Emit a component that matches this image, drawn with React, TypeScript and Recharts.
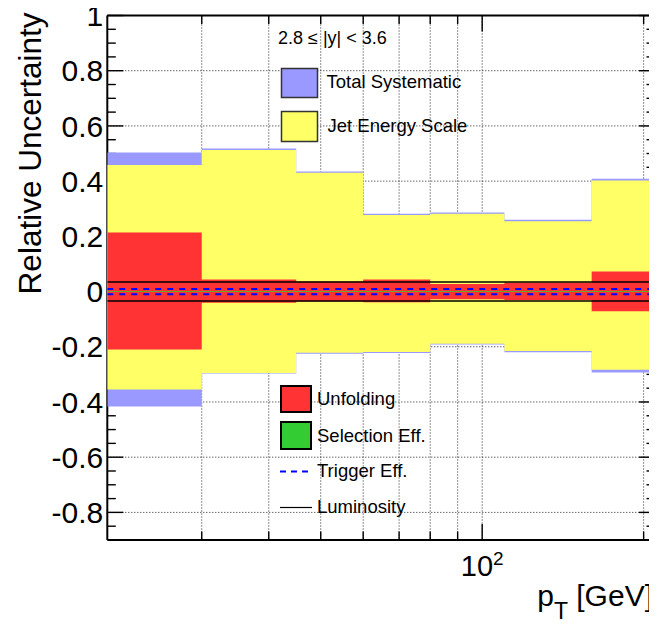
import React from 'react';
import { ComposedChart, Area, Line, XAxis, YAxis, CartesianGrid, Legend } from 'recharts';

// pT bin edges [GeV]
const binEdges = [20, 30, 45, 60, 80, 110, 160, 210];

// relative uncertainties per bin (7 bins)
const totalUp = [0.504, 0.518, 0.435, 0.282, 0.286, 0.26, 0.409];
const totalDown = [-0.416, -0.297, -0.225, -0.223, -0.192, -0.22, -0.293];
const jesUp = [0.458, 0.513, 0.43, 0.277, 0.282, 0.255, 0.402];
const jesDown = [-0.355, -0.295, -0.222, -0.219, -0.189, -0.215, -0.283];
const unfoldUp = [0.214, 0.044, 0.036, 0.044, 0.027, 0.033, 0.073];
const unfoldDown = [-0.21, -0.041, -0.036, -0.039, -0.028, -0.031, -0.071];
const selUp = [0.0015, 0.0015, 0.0015, 0.0015, 0.0015, 0.0015, 0.0015];
const selDown = [-0.0015, -0.0015, -0.0015, -0.0015, -0.0015, -0.0015, -0.0015];
const trigUp = [0.009, 0.009, 0.009, 0.009, 0.009, 0.009, 0.009];
const trigDown = [-0.01, -0.01, -0.01, -0.01, -0.01, -0.01, -0.01];
const lumiUp = [0.035, 0.035, 0.035, 0.035, 0.035, 0.035, 0.035];
const lumiDown = [-0.034, -0.034, -0.034, -0.034, -0.034, -0.034, -0.034];

// axis ticks
const yMajorTicks = [-0.8, -0.6, -0.4, -0.2, 0, 0.2, 0.4, 0.6, 0.8, 1];
const yMinorTicks = [-0.85, -0.75, -0.7, -0.65, -0.55, -0.5, -0.45, -0.35, -0.3, -0.25, -0.15, -0.1, -0.05,
  0.05, 0.1, 0.15, 0.25, 0.3, 0.35, 0.45, 0.5, 0.55, 0.65, 0.7, 0.75, 0.85, 0.9, 0.95];
const xGridTicks = [30, 40, 50, 60, 70, 80, 90, 100, 200];
const xMinorTicks = [30, 40, 50, 60, 70, 80, 90, 200];
const xMajorTicks = [100];
const xDomain = [20, 210];
const yDomain = [-0.9, 1];

const rapidityLabel = '2.8 \u2264 |y| < 3.6';

const lastBin = totalUp.length - 1;
const data = binEdges.map((x, i) => {
  const b = Math.min(i, lastBin);
  return {
    x,
    total: [totalDown[b], totalUp[b]],
    jes: [jesDown[b], jesUp[b]],
    unfold: [unfoldDown[b], unfoldUp[b]],
    sel: [selDown[b], selUp[b]],
    trigUp: trigUp[b],
    trigDown: trigDown[b],
    lumiUp: lumiUp[b],
    lumiDown: lumiDown[b],
  };
});

const FONT = '"Liberation Sans", Arial, Helvetica, sans-serif';
const W = 657;
const H = 627;
const THIN = 0.001;

const EmptyTick = () => <g />;

const XTick = (props: any) => {
  const { x, y, payload } = props;
  if (payload.value !== 100) return <g />;
  return (
    <text x={x} y={y + 34} textAnchor="middle" fontFamily={FONT} fontSize={29} fill="#000">
      <tspan>10</tspan>
      <tspan dy={-11} fontSize={19}>2</tspan>
    </text>
  );
};

const YTitle = (props: any) => {
  const vb = props.viewBox || { x: 0, y: 15.5 };
  const x = 41;
  const y = vb.y - 3;
  return (
    <text x={x} y={y} transform={`rotate(-90, ${x}, ${y})`} textAnchor="end" fontFamily={FONT} fontSize={31.5} fill="#000">
      Relative Uncertainty
    </text>
  );
};

const XTitle = (props: any) => {
  const vb = props.viewBox || { x: 107, y: 540, width: 548 };
  const x = vb.x + vb.width - 2;
  const y = vb.y + 66;
  return (
    <text x={x} y={y} textAnchor="end" fontFamily={FONT} fontSize={30} fill="#000">
      <tspan>p</tspan>
      <tspan dy={13} fontSize={23}>T</tspan>
      <tspan dy={-13}> [GeV]</tspan>
    </text>
  );
};

const LegendBox = () => {
  const t = { fontFamily: FONT, fontSize: 18.5, fill: '#000' } as any;
  return (
    <svg width={W} height={H} style={{ position: 'absolute', left: 0, top: 0, pointerEvents: 'none' }}>
      <text x={278} y={44} fontFamily={FONT} fontSize={18} fill="#000">{rapidityLabel}</text>
      <rect x={281.5} y={68.5} width={36} height={29} fill="#9999ff" stroke="#333" strokeWidth={1.5} />
      <text x={326.5} y={88} {...t}>Total Systematic</text>
      <rect x={281.5} y={111.5} width={36} height={30} fill="#ffff66" stroke="#333" strokeWidth={1.5} />
      <text x={327.5} y={132} {...t}>Jet Energy Scale</text>
      <rect x={281} y={386} width={30} height={26} fill="#ff3333" stroke="#000" strokeWidth={2} />
      <text x={317} y={405} {...t}>Unfolding</text>
      <rect x={281} y={422} width={30} height={27} fill="#33cc33" stroke="#000" strokeWidth={2} />
      <text x={317} y={442} {...t}>Selection Eff.</text>
      <line x1={280} x2={312} y1={471.5} y2={471.5} stroke="#0000ff" strokeWidth={2} strokeDasharray="6 5" />
      <text x={317} y={477} {...t}>Trigger Eff.</text>
      <line x1={280} x2={312} y1={507.5} y2={507.5} stroke="#000" strokeWidth={1.2} />
      <text x={317} y={513} {...t}>Luminosity</text>
    </svg>
  );
};

export default function App() {
  const tickLine = { stroke: '#000', strokeWidth: 1.4 };
  const frame = { stroke: '#000', strokeWidth: 2 };
  return (
    <div style={{ width: W, height: H, position: 'relative', margin: '-8px 0 0 -8px' }}>
      <ComposedChart width={W} height={H} data={data} margin={{ top: 15.5, right: 2, bottom: 27, left: 0 }}>
        <CartesianGrid stroke="#222" strokeDasharray="1 2" strokeWidth={1} horizontalValues={yMajorTicks} verticalValues={xGridTicks} />
        <XAxis
          xAxisId={0}
          dataKey="x"
          type="number"
          scale="log"
          domain={xDomain}
          allowDataOverflow
          ticks={xGridTicks}
          interval={0}
          height={60}
          tickSize={0}
          tickLine={false}
          axisLine={frame}
          tick={<XTick />}
          label={{ content: <XTitle /> }}
          zIndex={-50}
        />
        <XAxis xAxisId="bmin" dataKey="x" type="number" scale="log" domain={xDomain} allowDataOverflow ticks={xMinorTicks} interval={0} mirror height={THIN} tickSize={8.5} tick={<EmptyTick />} tickLine={tickLine} axisLine={false} zIndex={-50} />
        <XAxis xAxisId="bmaj" dataKey="x" type="number" scale="log" domain={xDomain} allowDataOverflow ticks={xMajorTicks} interval={0} mirror height={THIN} tickSize={16} tick={<EmptyTick />} tickLine={tickLine} axisLine={false} zIndex={-50} />
        <XAxis xAxisId="tmin" orientation="top" dataKey="x" type="number" scale="log" domain={xDomain} allowDataOverflow ticks={xMinorTicks} interval={0} mirror height={THIN} tickSize={8.5} tick={<EmptyTick />} tickLine={tickLine} axisLine={frame} zIndex={-50} />
        <XAxis xAxisId="tmaj" orientation="top" dataKey="x" type="number" scale="log" domain={xDomain} allowDataOverflow ticks={xMajorTicks} interval={0} mirror height={THIN} tickSize={16} tick={<EmptyTick />} tickLine={tickLine} axisLine={false} zIndex={-50} />
        <YAxis
          yAxisId={0}
          type="number"
          domain={yDomain}
          allowDataOverflow
          ticks={yMajorTicks}
          interval={0}
          width={107.3}
          tickSize={0}
          tickMargin={4}
          tickLine={false}
          axisLine={frame}
          tick={{ fill: '#000', fontSize: 30, fontFamily: FONT }}
          label={{ content: <YTitle /> }}
          zIndex={-50}
        />
        <YAxis yAxisId="lmaj" type="number" domain={yDomain} allowDataOverflow ticks={yMajorTicks} interval={0} mirror width={THIN} tickSize={16} tick={<EmptyTick />} tickLine={tickLine} axisLine={false} zIndex={-50} />
        <YAxis yAxisId="lmin" type="number" domain={yDomain} allowDataOverflow ticks={yMinorTicks} interval={0} mirror width={THIN} tickSize={8.5} tick={<EmptyTick />} tickLine={tickLine} axisLine={false} zIndex={-50} />
        <YAxis yAxisId="rmaj" orientation="right" type="number" domain={yDomain} allowDataOverflow ticks={yMajorTicks} interval={0} mirror width={THIN} tickSize={16} tick={<EmptyTick />} tickLine={tickLine} axisLine={frame} zIndex={-50} />
        <YAxis yAxisId="rmin" orientation="right" type="number" domain={yDomain} allowDataOverflow ticks={yMinorTicks} interval={0} mirror width={THIN} tickSize={8.5} tick={<EmptyTick />} tickLine={tickLine} axisLine={false} zIndex={-50} />

        <Area dataKey="total" type="stepAfter" fill="#9999ff" fillOpacity={1} stroke="none" isAnimationActive={false} />
        <Area dataKey="jes" type="stepAfter" fill="#ffff66" fillOpacity={1} stroke="none" isAnimationActive={false} />
        <Area dataKey="unfold" type="stepAfter" fill="#ff3333" fillOpacity={1} stroke="none" isAnimationActive={false} />
        <Area dataKey="sel" type="stepAfter" fill="#33cc33" fillOpacity={1} stroke="none" isAnimationActive={false} />
        <Line dataKey="trigUp" type="stepAfter" stroke="#0000ff" strokeWidth={2} strokeDasharray="6 6" dot={false} activeDot={false} isAnimationActive={false} />
        <Line dataKey="trigDown" type="stepAfter" stroke="#0000ff" strokeWidth={2} strokeDasharray="6 6" dot={false} activeDot={false} isAnimationActive={false} />
        <Line dataKey="lumiUp" type="stepAfter" stroke="#000" strokeWidth={1.5} dot={false} activeDot={false} isAnimationActive={false} />
        <Line dataKey="lumiDown" type="stepAfter" stroke="#000" strokeWidth={1.5} dot={false} activeDot={false} isAnimationActive={false} />
        <Legend
          layout="vertical"
          align="center"
          verticalAlign="middle"
          wrapperStyle={{ left: 0, top: 0, width: W, height: H, margin: 0, pointerEvents: 'none' }}
          content={() => <LegendBox />}
        />
      </ComposedChart>
    </div>
  );
}
